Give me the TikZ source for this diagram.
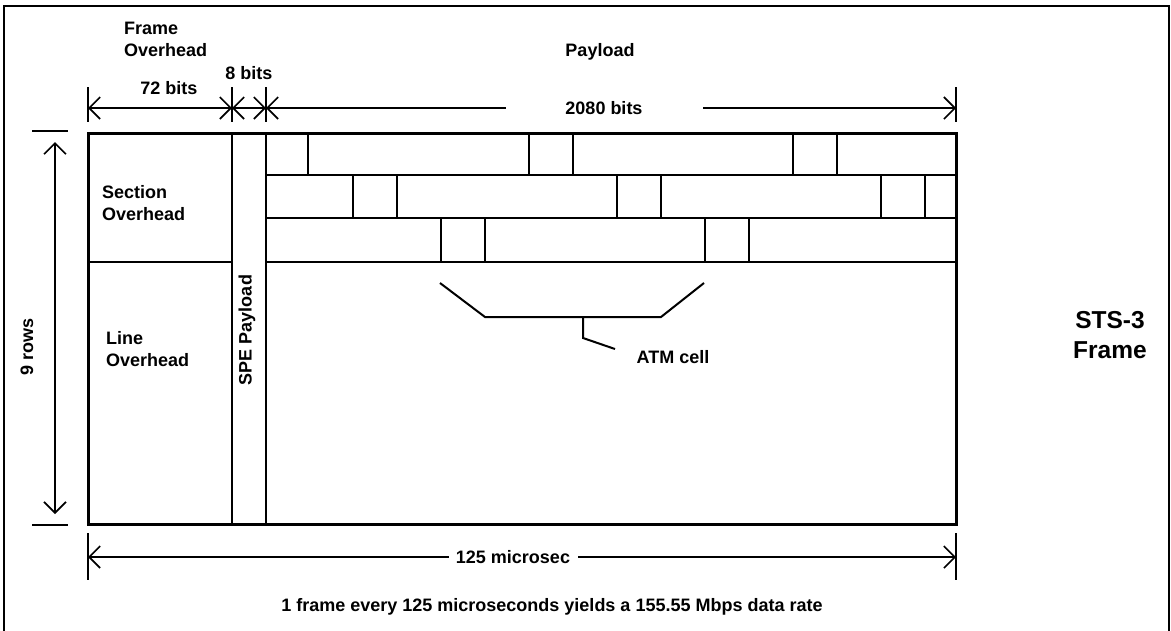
\documentclass[tikz,border=0pt]{standalone}
\usepackage{fontspec}
\setmainfont{Liberation Sans}
\usetikzlibrary{arrows.meta}

\tikzset{
  lbl/.style={font=\fontsize{18}{22}\selectfont\bfseries, inner sep=0pt, align=left},
  biglbl/.style={font=\fontsize{24.5}{30}\selectfont\bfseries, inner sep=0pt, align=center},
  heavy/.style={line width=3pt, line join=miter},
  inner/.style={line width=2pt},
  dimline/.style={line width=1.6pt},
  barb/.tip={Straight Barb[length=11pt,width=22pt]},
}

\begin{document}
\begin{tikzpicture}[x=1pt,y=-1pt]
\useasboundingbox (0,0) rectangle (1171,630);
% outer border
\draw[line width=1.6pt] (4,640) -- (4,6) -- (1169,6) -- (1169,640);

% the frame
\coordinate (tl) at (88,133);
\coordinate (br) at (956,524);
\draw[inner] (232,133) -- (232,524);
\draw[inner] (266,133) -- (266,524);
\draw[inner] (88,262) -- (232,262);
\draw[inner] (266,175) -- (956,175);
\draw[inner] (266,218) -- (956,218);
\draw[inner] (266,262) -- (956,262);
% cells, row by row
\foreach \x in {308,529,573,793,837} \draw[inner] (\x,133) -- (\x,175);
\foreach \x in {353,397,617,661,881,925} \draw[inner] (\x,175) -- (\x,218);
\foreach \x in {441,485,705,749} \draw[inner] (\x,218) -- (\x,262);
\draw[heavy] (tl) rectangle (br);

\node[lbl, anchor=west] (secoh) at (102,203) {Section\\Overhead};
\node[lbl, anchor=west] (lineoh) at (106,349) {Line\\Overhead};
\node[lbl, rotate=90] (spe) at (247,330) {SPE Payload};

% width of the frame, top
\coordinate (d0) at (88,108);
\coordinate (d1) at (232,108);
\coordinate (d2) at (266,108);
\coordinate (d3) at (956,108);
\foreach \x in {88,232,266,956} \draw[dimline] (\x,87) -- (\x,122);
\draw[dimline, barb-barb] (d0) -- (d1);
\draw[dimline, barb-barb] (d1) -- (d2);
\node[lbl] (bits2080) at (604,108) {2080 bits};
\coordinate (g1) at (506,108);
\coordinate (g2) at (703,108);
\draw[dimline, barb-] (d2) -- (g1);
\draw[dimline, -barb] (g2) -- (d3);
\node[lbl] (bits72) at (169,88) {72 bits};
\node[lbl] (bits8) at (249,73) {8 bits};
\node[lbl, anchor=west] (frameoh) at (124,39) {Frame\\Overhead};
\node[lbl] (payload) at (600,52) {Payload};

% height of the frame
\coordinate (v0) at (55,142);
\coordinate (v1) at (55,514);
\draw[dimline] (32,131) -- (68,131);
\draw[dimline] (32,525) -- (68,525);
\draw[dimline, barb-barb] (v0) -- (v1);
\node[lbl, rotate=90] (rows) at (27,347) {9 rows};

% ATM cell
\coordinate (a0) at (440,283);
\coordinate (a1) at (485,317);
\coordinate (a2) at (661,317);
\coordinate (a3) at (704,283);
\coordinate (s0) at (583,317);
\coordinate (s1) at (583,338);
\coordinate (s2) at (615,349);
\draw[inner] (a0) -- (a1) -- (a2) -- (a3);
\draw[inner] (s0) -- (s1) -- (s2);
\node[lbl] (atm) at (673,357) {ATM cell};

% time, bottom
\coordinate (b0) at (88,557);
\coordinate (b1) at (449,557);
\coordinate (b2) at (578,557);
\coordinate (b3) at (956,557);
\foreach \x in {88,956} \draw[dimline] (\x,533) -- (\x,580);
\draw[dimline, barb-] (b0) -- (b1);
\draw[dimline, -barb] (b2) -- (b3);
\node[lbl] (usec) at (513,557) {125 microsec};
\node[lbl] (rate) at (552,607) {1 frame every 125 microseconds yields a 155.55 Mbps data rate};

\node[biglbl] (sts) at (1110,335) {STS-3\\Frame};
\end{tikzpicture}
\end{document}
